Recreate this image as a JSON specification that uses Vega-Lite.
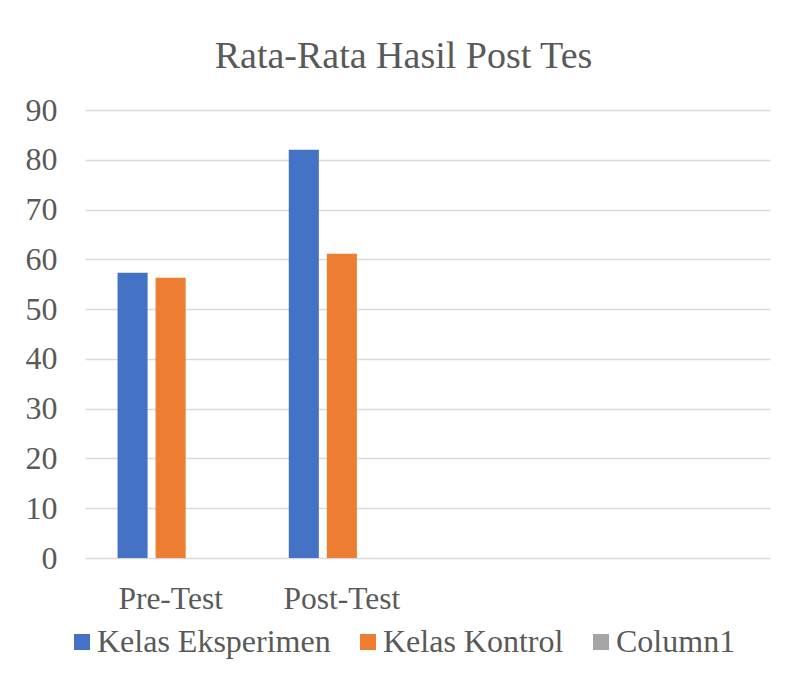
{
  "$schema": "https://vega.github.io/schema/vega-lite/v6.json",
  "autosize": {"type": "none"},
  "width": 685,
  "height": 448,
  "padding": {"left": 85, "top": 110, "right": 19, "bottom": 133},
  "background": "white",
  "title": {
    "text": "Rata-Rata Hasil Post Tes",
    "font": "Liberation Serif",
    "fontSize": 38,
    "fontWeight": "normal",
    "color": "#595959",
    "anchor": "middle",
    "dx": -24,
    "offset": 18
  },
  "data": {
    "values": [
      {"test": "Pre-Test", "series": "Kelas Eksperimen", "value": 57.3},
      {"test": "Pre-Test", "series": "Kelas Kontrol", "value": 56.3},
      {"test": "Post-Test", "series": "Kelas Eksperimen", "value": 82.0},
      {"test": "Post-Test", "series": "Kelas Kontrol", "value": 61.1}
    ]
  },
  "mark": {"type": "bar"},
  "encoding": {
    "x": {
      "field": "test",
      "type": "nominal",
      "scale": {"domain": ["Pre-Test", "Post-Test", "c3", "c4"], "paddingInner": 0.38, "paddingOuter": 0.19},
      "axis": {
        "title": null,
        "labelAngle": 0,
        "labelExpr": "datum.value == 'c3' || datum.value == 'c4' ? '' : datum.value",
        "labelFont": "Liberation Serif",
        "labelFontSize": 31.5,
        "labelColor": "#595959",
        "labelPadding": 25,
        "ticks": false,
        "domain": false
      }
    },
    "xOffset": {
      "field": "series",
      "type": "nominal",
      "scale": {"domain": ["Kelas Eksperimen", "Kelas Kontrol", "Column1"], "paddingInner": 0.21, "paddingOuter": 0}
    },
    "y": {
      "field": "value",
      "type": "quantitative",
      "scale": {"domain": [0, 90], "nice": false},
      "axis": {
        "title": null,
        "values": [0, 10, 20, 30, 40, 50, 60, 70, 80, 90],
        "labelFont": "Liberation Serif",
        "labelFontSize": 32,
        "labelColor": "#595959",
        "labelPadding": 28,
        "ticks": false,
        "domain": false,
        "grid": true,
        "gridColor": "#d9d9d9",
        "gridWidth": 1.5
      }
    },
    "color": {
      "field": "series",
      "type": "nominal",
      "scale": {
        "domain": ["Kelas Eksperimen", "Kelas Kontrol", "Column1"],
        "range": ["#4472C4", "#ED7D31", "#A5A5A5"]
      },
      "legend": {
        "title": null,
        "orient": "none",
        "direction": "horizontal",
        "legendX": -19,
        "legendY": 516,
        "symbolType": "square",
        "symbolSize": 256,
        "symbolStrokeWidth": 0,
        "labelFont": "Liberation Serif",
        "labelFontSize": 32,
        "labelColor": "#595959",
        "labelOffset": -1,
        "columnPadding": 21,
        "labelLimit": 400
      }
    }
  },
  "config": {
    "view": {"stroke": null}
  }
}
